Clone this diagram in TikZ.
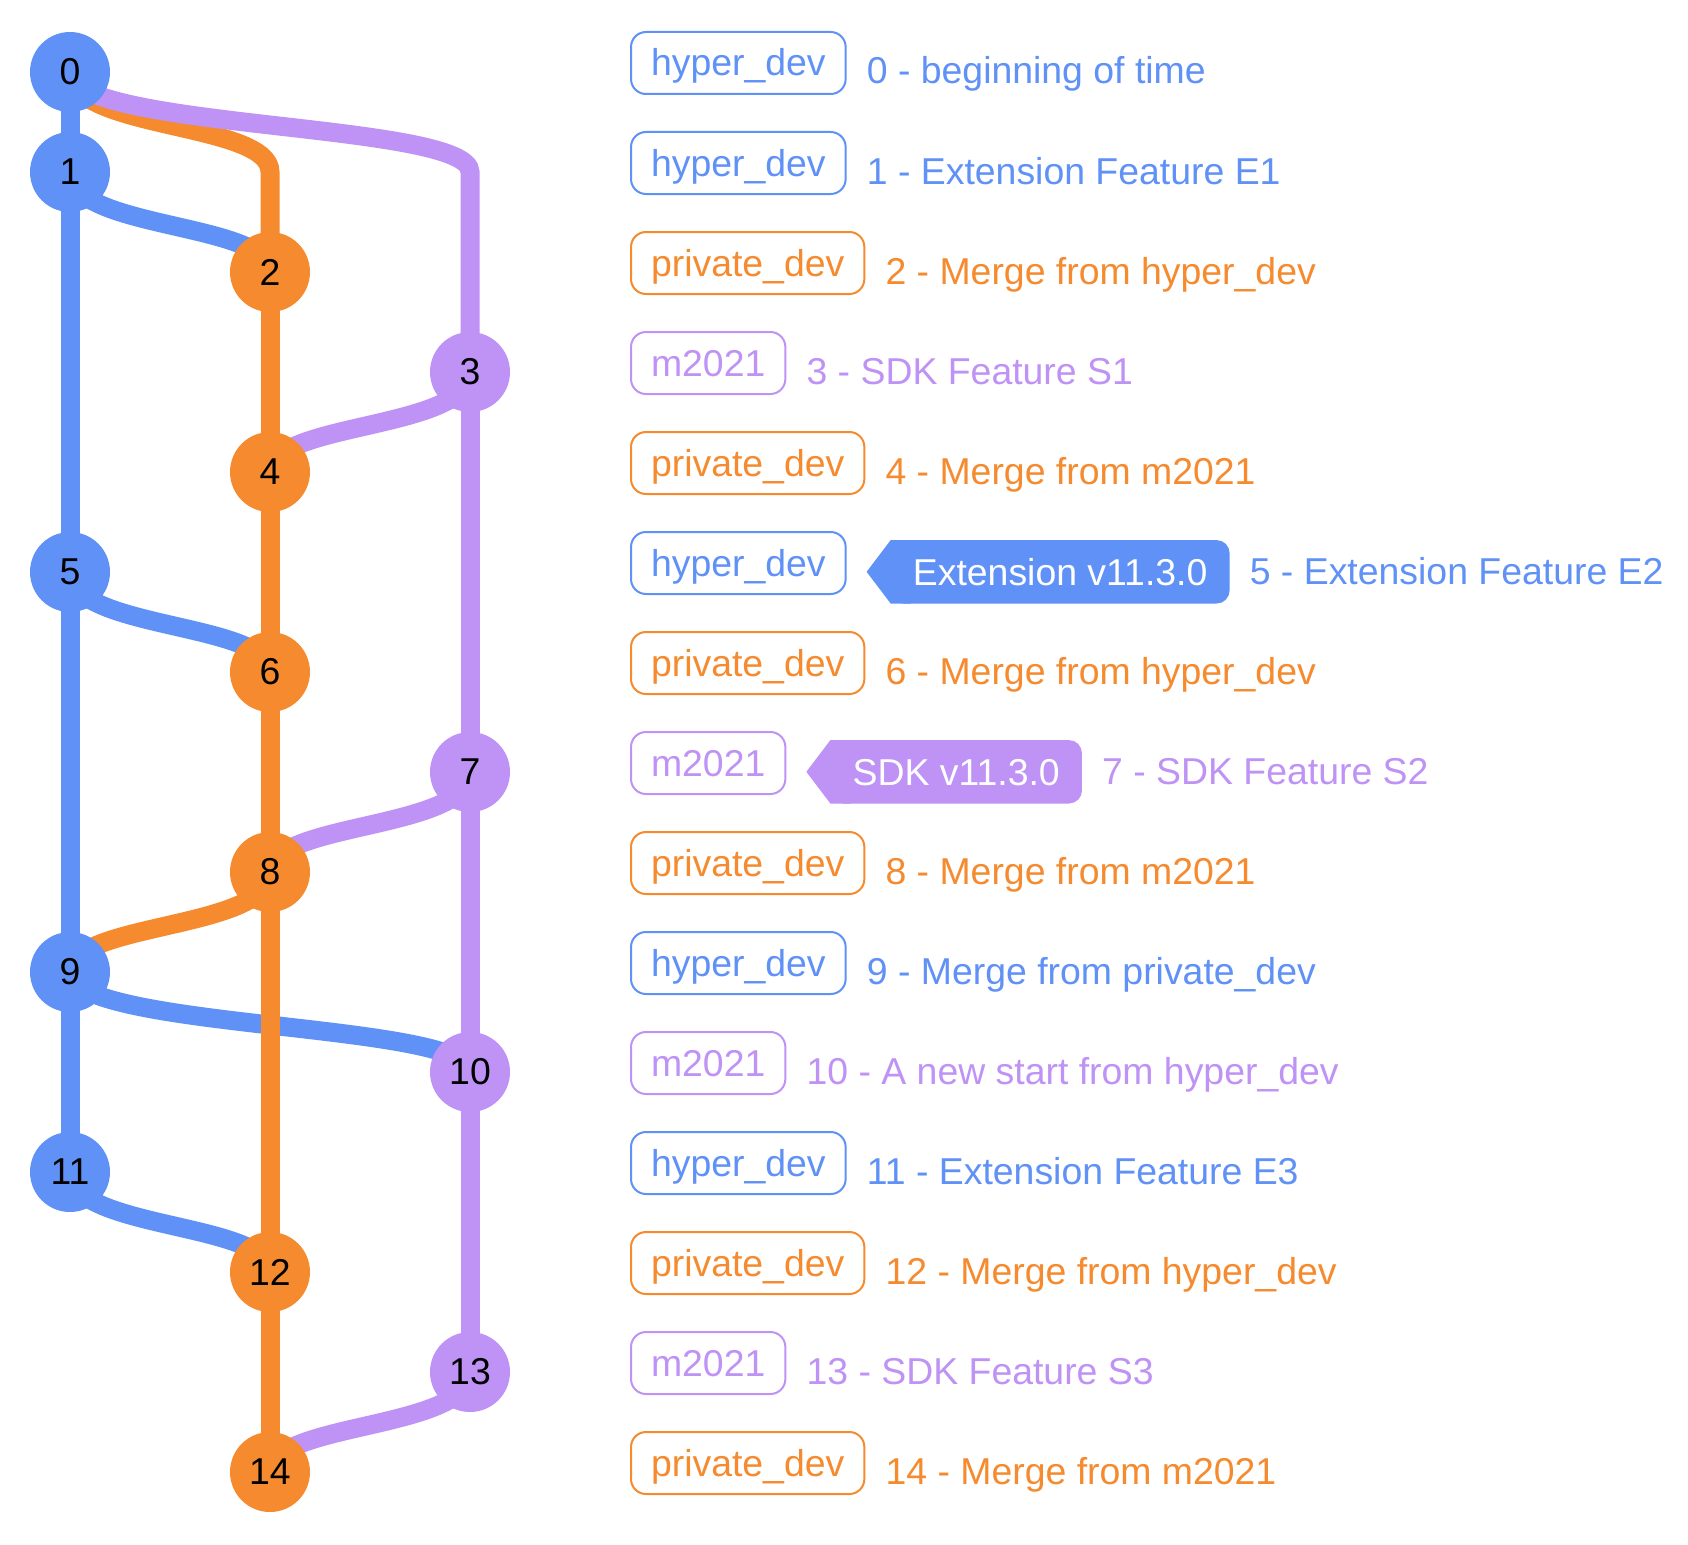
\documentclass[tikz,border=0pt]{standalone}
\usepackage{fontspec}
\setmainfont{Liberation Sans}
\usetikzlibrary{calc,backgrounds}
\definecolor{cb}{RGB}{95,145,246}
\definecolor{co}{RGB}{245,139,46}
\definecolor{cp}{RGB}{191,147,245}
\newcommand\gbend[3]{\draw[edge=#1] (#2.center) .. controls ($(#2.center)+(0,58)$) and ($(#3.center |- #2.center)+(0,50)$) .. ($(#3.center |- #2.center)+(0,100)$) -- (#3.center);}
\newcommand\glabel[4]{%
  \node[brbox=#2] (b#1) at (630,{72+100*#1+4}) {#3};
  \node[msg=#2] (m#1) at ($(b#1.base east)+(20,8)$) {#4};}
\begin{document}
\begin{tikzpicture}[x=1pt,y=-1pt,
  every node/.style={font=\fontsize{37.4}{44}\selectfont},
  commit/.style={circle, minimum size=80pt, inner sep=0pt, fill=#1, text=black},
  edge/.style={line width=19pt, draw=#1},
  brbox/.style={draw=#1, text=#1, line width=2pt, rounded corners=15pt, fill=white, inner xsep=20pt, inner ysep=0pt, text height=44pt, text depth=18pt, anchor=base west},
  msg/.style={text=#1, inner sep=0pt, anchor=base west},
  tagbox/.style={text=white, inner xsep=22pt, inner ysep=0pt, text height=44.7pt, text depth=18.3pt, anchor=base west},
]
\useasboundingbox (0,0) rectangle (1688,1544);
% commits
\node[commit=cb] (c0) at (70,72) {0};
\node[commit=cb] (c1) at (70,172) {1};
\node[commit=co] (c2) at (270,272) {2};
\node[commit=cp] (c3) at (470,372) {3};
\node[commit=co] (c4) at (270,472) {4};
\node[commit=cb] (c5) at (70,572) {5};
\node[commit=co] (c6) at (270,672) {6};
\node[commit=cp] (c7) at (470,772) {7};
\node[commit=co] (c8) at (270,872) {8};
\node[commit=cb] (c9) at (70,972) {9};
\node[commit=cp] (c10) at (470,1072) {10};
\node[commit=cb] (c11) at (70,1172) {11};
\node[commit=co] (c12) at (270,1272) {12};
\node[commit=cp] (c13) at (470,1372) {13};
\node[commit=co] (c14) at (270,1472) {14};
% labels
\glabel{0}{cb}{hyper\_dev}{0 - beginning of time}
\glabel{1}{cb}{hyper\_dev}{1 - Extension Feature E1}
\glabel{2}{co}{private\_dev}{2 - Merge from hyper\_dev}
\glabel{3}{cp}{m2021}{3 - SDK Feature S1}
\glabel{4}{co}{private\_dev}{4 - Merge from m2021}
\node[brbox=cb] (b5) at (630,576) {hyper\_dev};
\node[tagbox] (t5) at ($(b5.base east)+(44,9)$) {Extension v11.3.0};
\node[msg=cb] (m5) at ($(t5.base east)+(20,-1)$) {5 - Extension Feature E2};
\glabel{6}{co}{private\_dev}{6 - Merge from hyper\_dev}
\node[brbox=cp] (b7) at (630,776) {m2021};
\node[tagbox] (t7) at ($(b7.base east)+(44,9)$) {SDK v11.3.0};
\node[msg=cp] (m7) at ($(t7.base east)+(20,-1)$) {7 - SDK Feature S2};
\glabel{8}{co}{private\_dev}{8 - Merge from m2021}
\glabel{9}{cb}{hyper\_dev}{9 - Merge from private\_dev}
\glabel{10}{cp}{m2021}{10 - A new start from hyper\_dev}
\glabel{11}{cb}{hyper\_dev}{11 - Extension Feature E3}
\glabel{12}{co}{private\_dev}{12 - Merge from hyper\_dev}
\glabel{13}{cp}{m2021}{13 - SDK Feature S3}
\glabel{14}{co}{private\_dev}{14 - Merge from m2021}
\begin{scope}[on background layer]
\fill[white] (0,0) rectangle (1688,1544);
% edges in commit order
\draw[edge=cb] (c0.center) -- (c1.center);
\gbend{co}{c0}{c2}
\gbend{cb}{c1}{c2}
\gbend{cp}{c0}{c3}
\draw[edge=co] (c2.center) -- (c4.center);
\gbend{cp}{c3}{c4}
\draw[edge=cb] (c1.center) -- (c5.center);
\draw[edge=co] (c4.center) -- (c6.center);
\gbend{cb}{c5}{c6}
\draw[edge=cp] (c3.center) -- (c7.center);
\draw[edge=co] (c6.center) -- (c8.center);
\gbend{cp}{c7}{c8}
\draw[edge=cb] (c5.center) -- (c9.center);
\gbend{co}{c8}{c9}
\draw[edge=cp] (c7.center) -- (c10.center);
\gbend{cb}{c9}{c10}
\draw[edge=cb] (c9.center) -- (c11.center);
\draw[edge=co] (c8.center) -- (c12.center);
\gbend{cb}{c11}{c12}
\draw[edge=cp] (c10.center) -- (c13.center);
\draw[edge=co] (c12.center) -- (c14.center);
\gbend{cp}{c13}{c14}
% tags
\fill[cb, rounded corners=13pt] (t5.south west) rectangle (t5.north east);
\fill[cb] ($(t5.west)+(-24,0)$) -- (t5.north west) -- ($(t5.north west)+(20,0)$) -- ($(t5.south west)+(20,0)$) -- (t5.south west) -- cycle;
\fill[cp, rounded corners=13pt] (t7.south west) rectangle (t7.north east);
\fill[cp] ($(t7.west)+(-24,0)$) -- (t7.north west) -- ($(t7.north west)+(20,0)$) -- ($(t7.south west)+(20,0)$) -- (t7.south west) -- cycle;
\end{scope}
\end{tikzpicture}
\end{document}
